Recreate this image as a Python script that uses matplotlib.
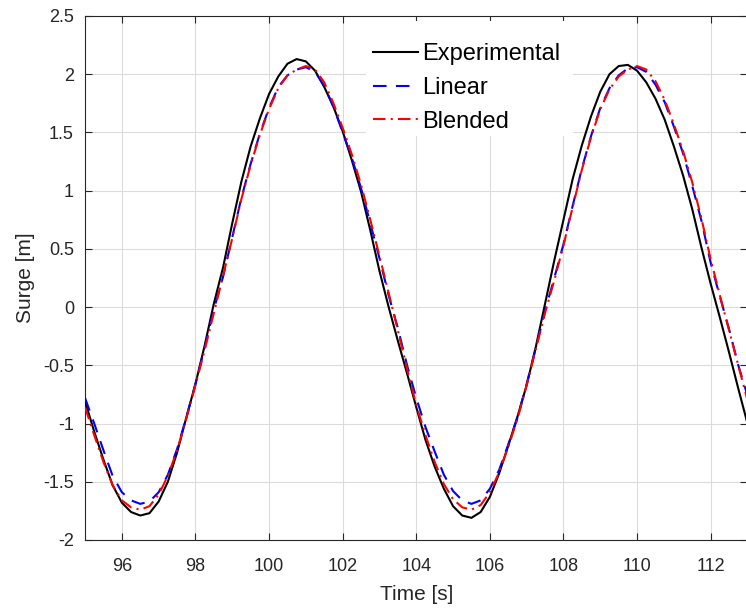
import matplotlib
matplotlib.use("Agg")
import matplotlib.pyplot as plt
from matplotlib.patches import Rectangle

time_s = [95.00, 95.25, 95.50, 95.75, 96.00, 96.25, 96.50, 96.75, 97.00, 97.25,
          97.50, 97.75, 98.00, 98.25, 98.50, 98.75, 99.00, 99.25, 99.50, 99.75,
          100.00, 100.25, 100.50, 100.75, 101.00, 101.25, 101.50, 101.75, 102.00, 102.25,
          102.50, 102.75, 103.00, 103.25, 103.50, 103.75, 104.00, 104.25, 104.50, 104.75,
          105.00, 105.25, 105.50, 105.75, 106.00, 106.25, 106.50, 106.75, 107.00, 107.25,
          107.50, 107.75, 108.00, 108.25, 108.50, 108.75, 109.00, 109.25, 109.50, 109.75,
          110.00, 110.25, 110.50, 110.75, 111.00, 111.25, 111.50, 111.75, 112.00, 112.25,
          112.50, 112.75, 113.00]

experimental = [-0.81, -1.07, -1.31, -1.53, -1.68, -1.76, -1.79, -1.77, -1.67, -1.50,
                -1.25, -0.95, -0.66, -0.33, 0.03, 0.34, 0.72, 1.08, 1.38, 1.62,
                1.83, 1.98, 2.09, 2.13, 2.11, 2.03, 1.89, 1.72, 1.51, 1.26,
                0.99, 0.66, 0.31, 0.00, -0.29, -0.57, -0.86, -1.14, -1.37, -1.56,
                -1.71, -1.79, -1.81, -1.76, -1.63, -1.43, -1.19, -0.94, -0.67, -0.34,
                0.03, 0.40, 0.75, 1.10, 1.39, 1.64, 1.85, 2.00, 2.07, 2.08,
                2.03, 1.93, 1.79, 1.61, 1.38, 1.13, 0.84, 0.51, 0.20, -0.09,
                -0.39, -0.70, -1.00]

linear = [-0.78, -1.00, -1.23, -1.45, -1.59, -1.66, -1.69, -1.67, -1.59, -1.44,
          -1.22, -0.95, -0.66, -0.35, -0.02, 0.26, 0.60, 0.94, 1.23, 1.49,
          1.71, 1.89, 1.99, 2.04, 2.06, 2.02, 1.90, 1.72, 1.50, 1.28,
          1.02, 0.72, 0.42, 0.10, -0.18, -0.50, -0.78, -1.03, -1.24, -1.44,
          -1.58, -1.66, -1.69, -1.66, -1.56, -1.40, -1.18, -0.95, -0.66, -0.35,
          -0.03, 0.25, 0.54, 0.87, 1.19, 1.47, 1.71, 1.88, 1.99, 2.05,
          2.06, 2.02, 1.91, 1.76, 1.55, 1.32, 1.04, 0.74, 0.38, 0.09,
          -0.19, -0.50, -0.76]

blended = [-0.86, -1.10, -1.33, -1.53, -1.66, -1.72, -1.74, -1.71, -1.61, -1.45,
           -1.23, -0.96, -0.67, -0.37, -0.05, 0.27, 0.59, 0.93, 1.22, 1.48,
           1.70, 1.88, 1.99, 2.04, 2.07, 2.04, 1.93, 1.75, 1.54, 1.31,
           1.05, 0.75, 0.44, 0.12, -0.20, -0.53, -0.84, -1.10, -1.33, -1.52,
           -1.65, -1.72, -1.74, -1.70, -1.59, -1.42, -1.20, -0.96, -0.67, -0.36,
           -0.05, 0.23, 0.53, 0.86, 1.18, 1.46, 1.70, 1.87, 1.98, 2.04,
           2.07, 2.04, 1.94, 1.78, 1.57, 1.34, 1.07, 0.76, 0.41, 0.10,
           -0.20, -0.50, -0.80]

x_ticks = [96, 98, 100, 102, 104, 106, 108, 110, 112]
x_tick_labels = ["96", "98", "100", "102", "104", "106", "108", "110", "112"]
y_ticks = [-2, -1.5, -1, -0.5, 0, 0.5, 1, 1.5, 2, 2.5]
y_tick_labels = ["-2", "-1.5", "-1", "-0.5", "0", "0.5", "1", "1.5", "2", "2.5"]
series_names = ["Experimental", "Linear", "Blended"]

plt.rcParams['font.family'] = ['Liberation Sans', 'DejaVu Sans']

fig = plt.figure(figsize=(7.46, 6.10), dpi=100)
ax = fig.add_axes([0.114, 0.1148, 0.888, 0.859])

ax.plot(time_s, experimental, color='black', lw=1.5, label=series_names[0], zorder=3)
ax.plot(time_s, linear, color='#0000ff', lw=1.5, dashes=(6.5, 4.5), label=series_names[1], zorder=4)
ax.plot(time_s, blended, color='#ff0000', lw=1.5, dashes=(6, 2.5, 1, 2.5), label=series_names[2], zorder=5)

ax.set_xlim(95, 113)
ax.set_ylim(-2, 2.5)
ax.set_xticks(x_ticks)
ax.set_xticklabels(x_tick_labels)
ax.set_yticks(y_ticks)
ax.set_yticklabels(y_tick_labels)

ax.grid(True, color='#dcdcdc', lw=0.8)
ax.set_axisbelow(True)
for s in ax.spines.values():
    s.set_color('#262626')
    s.set_linewidth(0.8)
ax.tick_params(direction='in', length=5, width=0.8, colors='#262626',
               labelsize=13, top=True, right=True)
ax.tick_params(axis='y', pad=8)
ax.tick_params(axis='x', pad=13)

ax.set_xlabel("Time [s]", fontsize=15, color='#262626', labelpad=7)
ax.set_ylabel("Surge [m]", fontsize=15, color='#262626', labelpad=6)

# white legend background box (no edge)
ax.add_patch(Rectangle((0.424, 0.771), 0.313, 0.219, transform=ax.transAxes,
                       facecolor='white', edgecolor='none', zorder=2.5))

leg = ax.legend(loc='upper left', bbox_to_anchor=(0.424, 0.962), fontsize=17,
                frameon=False, handlelength=1.9, handletextpad=0.2,
                labelspacing=0.5, borderpad=0.3, borderaxespad=0)
leg.set_zorder(10)

fig.savefig("out.png", dpi=100)
